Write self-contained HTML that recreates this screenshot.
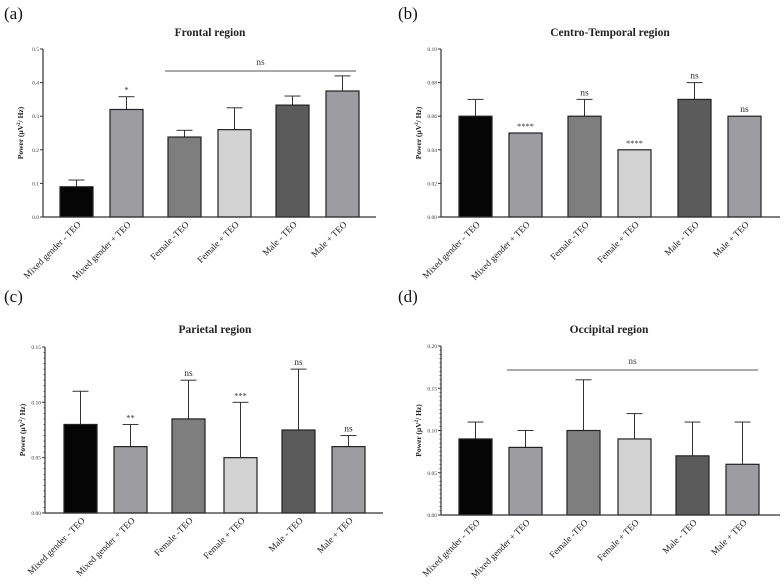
<!DOCTYPE html>
<html><head><meta charset="utf-8"><style>
html,body{margin:0;padding:0;background:#fff;}
svg{display:block;font-family:"Liberation Serif",serif;}
</style></head><body>
<svg id="fig" width="784" height="587" viewBox="0 0 784 587" xmlns="http://www.w3.org/2000/svg"></svg>
<script>
const categories = ["Mixed gender - TEO","Mixed gender + TEO","Female -TEO","Female + TEO","Male - TEO","Male + TEO"];
const frontalValues = [0.09,0.32,0.238,0.26,0.333,0.375];
const frontalErrors = [0.02,0.038,0.02,0.065,0.027,0.045];
const frontalMarks = ["","*","","","",""];
const frontalTicks = ["0.0","0.1","0.2","0.3","0.4","0.5"];
const centroValues = [0.06,0.05,0.06,0.04,0.07,0.06];
const centroErrors = [0.01,0,0.01,0,0.01,0];
const centroMarks = ["","****","ns","****","ns","ns"];
const centroTicks = ["0.00","0.02","0.04","0.06","0.08","0.10"];
const parietalValues = [0.08,0.06,0.085,0.05,0.075,0.06];
const parietalErrors = [0.03,0.02,0.035,0.05,0.055,0.01];
const parietalMarks = ["","**","ns","***","ns","ns"];
const parietalTicks = ["0.00","0.05","0.10","0.15"];
const occipitalValues = [0.09,0.08,0.10,0.09,0.07,0.06];
const occipitalErrors = [0.02,0.02,0.06,0.03,0.04,0.05];
const occipitalMarks = ["","","","","",""];
const occipitalTicks = ["0.00","0.05","0.10","0.15","0.20"];
const barColors = ["#050505","#9d9da1","#7e7e7e","#d3d3d3","#5b5b5b","#9d9da1"];

const NS="http://www.w3.org/2000/svg";
const svg=document.getElementById('fig');
function mk(tag,attrs,parent){const e=document.createElementNS(NS,tag);for(const k in attrs)e.setAttribute(k,attrs[k]);(parent||svg).appendChild(e);return e;}

const panels=[
 {letter:"(a)",lx:4,ly:19,title:"Frontal region",tx:210,ty:36,ax:43,top:49,bot:217,right:376,max:0.5,bars:[60,110,168,218,276,326],vals:frontalValues,errs:frontalErrors,marks:frontalMarks,ticks:frontalTicks,minor:false,ns:[165,356,71],name:"frontal"},
 {letter:"(b)",lx:398,ly:19,title:"Centro-Temporal region",tx:610,ty:36,ax:441,top:49,bot:217,right:780,max:0.10,bars:[459,509,568,618,678,728],vals:centroValues,errs:centroErrors,marks:centroMarks,ticks:centroTicks,minor:false,ns:null,name:"centro-temporal"},
 {letter:"(c)",lx:4,ly:302,title:"Parietal region",tx:215,ty:333,ax:45,top:347,bot:513,right:383,max:0.15,bars:[64,114,172,224,282,332],vals:parietalValues,errs:parietalErrors,marks:parietalMarks,ticks:parietalTicks,minor:true,ns:null,name:"parietal"},
 {letter:"(d)",lx:398,ly:302,title:"Occipital region",tx:609,ty:333,ax:441,top:346,bot:515,right:780,max:0.20,bars:[459,509,567,618,676,726],vals:occipitalValues,errs:occipitalErrors,marks:occipitalMarks,ticks:occipitalTicks,minor:true,ns:[507,758,370],name:"occipital"}
];
const BW=33;
panels.forEach(p=>{
 const g=mk('g',{});
 
 
 const y=v=>p.bot-(v/p.max)*(p.bot-p.top);
 const L=mk('text',{x:p.lx,y:p.ly,'font-size':17,fill:'#111'},g);L.textContent=p.letter;
 
 const T=mk('text',{x:p.tx,y:p.ty,'font-size':11.5,'font-weight':'bold','text-anchor':'middle',fill:'#222'},g);T.textContent=p.title;
 
 const ya=mk('line',{x1:p.ax,y1:p.top,x2:p.ax,y2:p.bot,stroke:'#333','stroke-width':1.2},g);
 
 const n=p.ticks.length;
 p.ticks.forEach((t,i)=>{
  const v=p.max*i/(n-1),yy=y(v);
  mk('line',{x1:p.ax-3,y1:yy,x2:p.ax,y2:yy,stroke:'#333','stroke-width':1},g);
  const tt=mk('text',{x:p.ax-4,y:yy+2,'font-size':5.5,'text-anchor':'end',fill:'#333'},g);tt.textContent=t;
  
  if(p.minor&&i<n-1){for(let k=1;k<10;k++){const ym=y(v+p.max/(n-1)*k/10);mk('line',{x1:p.ax-1.5,y1:ym,x2:p.ax,y2:ym,stroke:'#333','stroke-width':0.8},g);}}
 });
 const yt=mk('text',{transform:`translate(${p.ax-20},${(p.top+p.bot)/2}) rotate(-90)`,'font-size':7.5,'font-weight':'bold','text-anchor':'middle',fill:'#222'},g);
 yt.innerHTML='Power (µV<tspan font-size="5" dy="-3">2</tspan><tspan dy="3">/ Hz)</tspan>';
 
 p.vals.forEach((v,i)=>{
  const x0=p.bars[i],cx=x0+BW/2,yv=y(v),ye=y(v+p.errs[i]);
  if(p.errs[i]>0){
   mk('line',{x1:cx,y1:yv,x2:cx,y2:ye,stroke:'#333','stroke-width':1},g);
   mk('line',{x1:cx-8,y1:ye,x2:cx+8,y2:ye,stroke:'#333','stroke-width':1},g);
  }
  const r=mk('rect',{x:x0,y:yv,width:BW,height:p.bot-yv,fill:barColors[i],stroke:'#222','stroke-width':1.2},g);
  
  if(p.marks[i]){
   const m=mk('text',{x:cx,y:(p.errs[i]>0?ye:yv)-4,'font-size':p.marks[i]=='ns'?9.5:8.5,'text-anchor':'middle',fill:'#333'},g);m.textContent=p.marks[i];
   
  }
  const lb=mk('text',{transform:`translate(${cx+5},${p.bot+8}) rotate(-45)`,'font-size':9.2,'text-anchor':'end',fill:'#1a1a1a'},g);lb.textContent=categories[i];
  
 });
 const xa=mk('line',{x1:p.ax,y1:p.bot,x2:p.right,y2:p.bot,stroke:'#333','stroke-width':1.2},g);
 
 if(p.ns){
  const nl=mk('line',{x1:p.ns[0],y1:p.ns[2],x2:p.ns[1],y2:p.ns[2],stroke:'#555','stroke-width':1},g);
  
  const nt=mk('text',{x:(p.ns[0]+p.ns[1])/2,y:p.ns[2]-6,'font-size':9.5,'text-anchor':'middle',fill:'#444'},g);nt.textContent='ns';
  
 }
});
</script>
</body></html>
